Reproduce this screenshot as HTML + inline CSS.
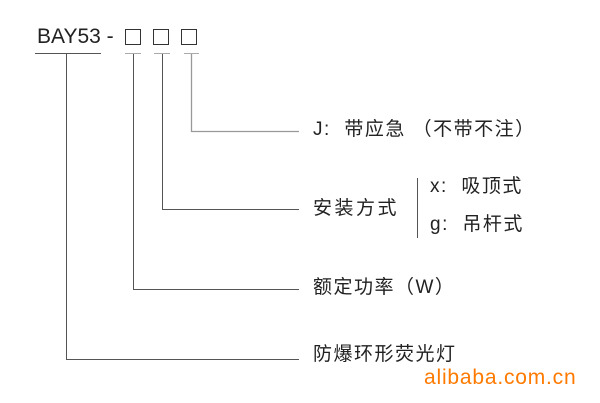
<!DOCTYPE html>
<html><head><meta charset="utf-8"><style>
body{margin:0;background:#fff;width:600px;height:403px;overflow:hidden;position:relative}
.t{position:absolute;font-family:"Liberation Sans","WenQuanYi Zen Hei","Noto Sans CJK SC",sans-serif;color:#222;white-space:nowrap;line-height:1;font-size:19px;letter-spacing:1.5px}
</style></head><body>
<svg width="600" height="403" style="position:absolute;left:0;top:0">
<g fill="none" stroke-width="1">
<rect x="125.5" y="29.5" width="15" height="15" stroke="#333"/>
<rect x="153.5" y="29.5" width="15" height="15" stroke="#333"/>
<rect x="181.5" y="29.5" width="15" height="15" stroke="#333"/>
<g stroke="#555">
<line x1="35" y1="53.5" x2="101" y2="53.5"/>
<line x1="125" y1="53.5" x2="141" y2="53.5" stroke="#aaa"/>
<line x1="154" y1="53.5" x2="170" y2="53.5" stroke="#aaa"/>
<line x1="184" y1="53.5" x2="199" y2="53.5" stroke="#aaa"/>
<polyline points="66.5,54 66.5,359.5 299,359.5"/>
<polyline points="133.5,54 133.5,289.5 299,289.5"/>
<polyline points="162.5,54 162.5,209.5 299,209.5"/>
<polyline points="191.5,54 191.5,131.5 299,131.5" stroke="#999" stroke-width="1.3"/>
<line x1="417.5" y1="178" x2="417.5" y2="238"/>
</g></g></svg>
<div class="t" style="left:37px;top:26px;font-size:21px;letter-spacing:0">BAY53 -</div>
<div class="t" style="left:313px;top:120px">J:&nbsp;&nbsp;带应急&nbsp;（不带不注）</div>
<div class="t" style="left:313px;top:199px;letter-spacing:2.5px">安装方式</div>
<div class="t" style="left:430px;top:177px">x:&nbsp;&nbsp;吸顶式</div>
<div class="t" style="left:430px;top:215px">g:&nbsp;&nbsp;吊杆式</div>
<div class="t" style="left:313px;top:278px">额定功率（W）</div>
<div class="t" style="left:313px;top:345px">防爆环形荧光灯</div>
<div class="t" style="left:424px;top:367px;font-size:21px;letter-spacing:0.8px;color:#ff7a00">alibaba.com.cn</div>
</body></html>
